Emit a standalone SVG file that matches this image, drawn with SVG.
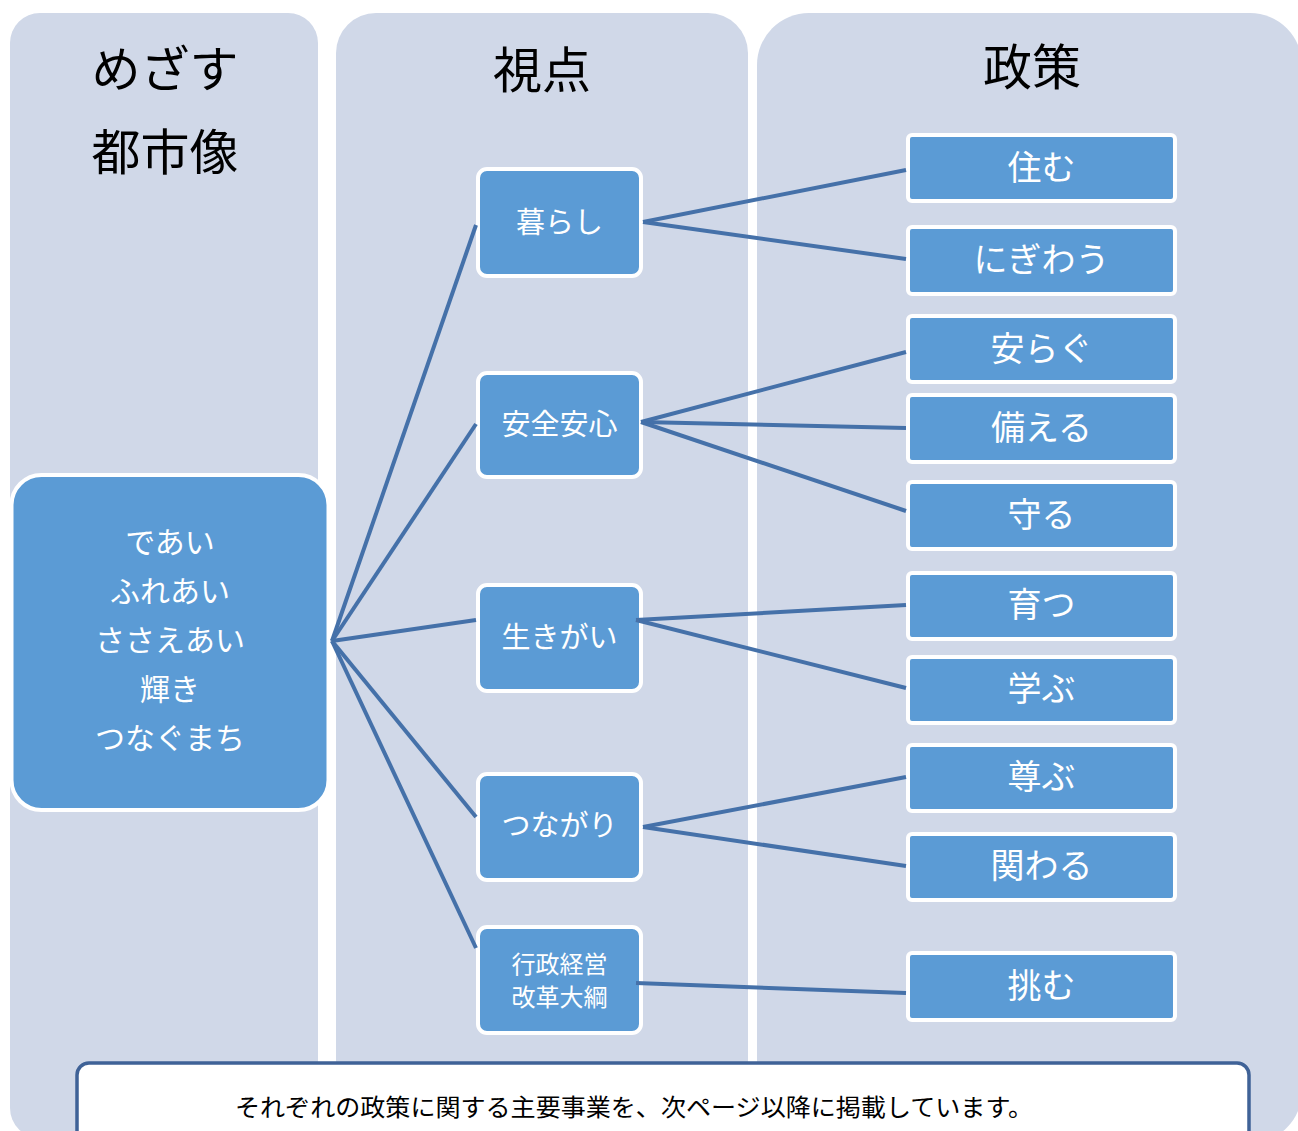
<svg xmlns="http://www.w3.org/2000/svg" width="1298" height="1131" viewBox="0 0 1298 1131">
  <style>
    .col { fill: #D0D8E8; }
    .title { font-family: "Noto Sans CJK JP", "Noto Sans", sans-serif; font-size: 49px; fill: #000; text-anchor: middle; }
    .node { fill: #5B9BD5; stroke: #FFFFFF; stroke-width: 4; }
    .lbl { font-family: "Noto Sans CJK JP", "Noto Sans", sans-serif; fill: #FFFFFF; text-anchor: middle; }
    .l1 { font-size: 30px; }
    .l2 { font-size: 29px; }
    .l2s { font-size: 24px; }
    .l3 { font-size: 34px; }
    .conn { stroke: #4571A9; stroke-width: 4; fill: none; stroke-linecap: butt; }
    .note { fill: #FFFFFF; stroke: #3F6297; stroke-width: 3.5; }
    .notetxt { font-family: "Noto Sans CJK JP", "Noto Sans", sans-serif; font-size: 24px; fill: #000; text-anchor: middle; }
  </style>
  <rect width="1298" height="1131" fill="#FFFFFF"/>

  <g id="columns">
    <rect class="col" x="10" y="13" width="308" height="1125" rx="30" ry="30"/>
    <rect class="col" x="336" y="13" width="412" height="1130" rx="40" ry="40"/>
    <rect class="col" x="757" y="13" width="545" height="1130" rx="52" ry="52"/>
  </g>

  <g id="titles">
    <text class="title" x="165" y="87">めざす</text>
    <text class="title" x="165" y="170">都市像</text>
    <text class="title" x="542" y="88">視点</text>
    <text class="title" x="1032" y="85">政策</text>
  </g>

  <g id="node-vision">
    <rect class="node" x="11.5" y="475" width="317" height="335" rx="30" ry="30"/>
    <text class="lbl l1" x="170" y="553">であい</text>
    <text class="lbl l1" x="170" y="602">ふれあい</text>
    <text class="lbl l1" x="170" y="651">ささえあい</text>
    <text class="lbl l1" x="170" y="700">輝き</text>
    <text class="lbl l1" x="170" y="749">つなぐまち</text>
  </g>

  <g id="node-kurashi">
    <rect class="node" x="478" y="169" width="163" height="107" rx="9" ry="9"/>
    <text class="lbl l2" x="559.5" y="233">暮らし</text>
  </g>
  <g id="node-anzen">
    <rect class="node" x="478" y="373" width="163" height="104" rx="9" ry="9"/>
    <text class="lbl l2" x="559.5" y="435">安全安心</text>
  </g>
  <g id="node-ikigai">
    <rect class="node" x="478" y="585" width="163" height="106" rx="9" ry="9"/>
    <text class="lbl l2" x="559.5" y="648">生きがい</text>
  </g>
  <g id="node-tsunagari">
    <rect class="node" x="478" y="774" width="163" height="106" rx="9" ry="9"/>
    <text class="lbl l2" x="559.5" y="836">つながり</text>
  </g>
  <g id="node-gyosei">
    <rect class="node" x="478" y="927" width="163" height="106" rx="9" ry="9"/>
    <text class="lbl l2s" x="559.5" y="973">行政経営</text>
    <text class="lbl l2s" x="559.5" y="1006">改革大綱</text>
  </g>

  <g id="node-sumu">
    <rect class="node" x="908" y="135" width="267" height="66" rx="4" ry="4"/>
    <text class="lbl l3" x="1041.5" y="180">住む</text>
  </g>
  <g id="node-nigiwau">
    <rect class="node" x="908" y="227" width="267" height="67" rx="4" ry="4"/>
    <text class="lbl l3" x="1041.5" y="272">にぎわう</text>
  </g>
  <g id="node-yasuragu">
    <rect class="node" x="908" y="316" width="267" height="66" rx="4" ry="4"/>
    <text class="lbl l3" x="1041.5" y="361">安らぐ</text>
  </g>
  <g id="node-sonaeru">
    <rect class="node" x="908" y="395" width="267" height="67" rx="4" ry="4"/>
    <text class="lbl l3" x="1041.5" y="440">備える</text>
  </g>
  <g id="node-mamoru">
    <rect class="node" x="908" y="482" width="267" height="67" rx="4" ry="4"/>
    <text class="lbl l3" x="1041.5" y="527">守る</text>
  </g>
  <g id="node-sodatsu">
    <rect class="node" x="908" y="573" width="267" height="66" rx="4" ry="4"/>
    <text class="lbl l3" x="1041.5" y="617">育つ</text>
  </g>
  <g id="node-manabu">
    <rect class="node" x="908" y="657" width="267" height="66" rx="4" ry="4"/>
    <text class="lbl l3" x="1041.5" y="701">学ぶ</text>
  </g>
  <g id="node-tattobu">
    <rect class="node" x="908" y="745" width="267" height="66" rx="4" ry="4"/>
    <text class="lbl l3" x="1041.5" y="789">尊ぶ</text>
  </g>
  <g id="node-kakawaru">
    <rect class="node" x="908" y="834" width="267" height="66" rx="4" ry="4"/>
    <text class="lbl l3" x="1041.5" y="878">関わる</text>
  </g>
  <g id="node-idomu">
    <rect class="node" x="908" y="953" width="267" height="67" rx="4" ry="4"/>
    <text class="lbl l3" x="1041.5" y="998">挑む</text>
  </g>

  <g id="connectors">
    <line class="conn" x1="332" y1="641" x2="476" y2="225"/>
    <line class="conn" x1="332" y1="641" x2="476" y2="424"/>
    <line class="conn" x1="332" y1="641" x2="476" y2="620"/>
    <line class="conn" x1="332" y1="641" x2="476" y2="817"/>
    <line class="conn" x1="332" y1="641" x2="476" y2="948"/>
    <line class="conn" x1="643" y1="222" x2="906" y2="170"/>
    <line class="conn" x1="643" y1="222" x2="906" y2="259"/>
    <line class="conn" x1="641" y1="422" x2="906" y2="352"/>
    <line class="conn" x1="641" y1="422" x2="906" y2="428"/>
    <line class="conn" x1="641" y1="422" x2="906" y2="511"/>
    <line class="conn" x1="636" y1="620" x2="906" y2="605"/>
    <line class="conn" x1="636" y1="620" x2="906" y2="688"/>
    <line class="conn" x1="643" y1="827" x2="906" y2="777"/>
    <line class="conn" x1="643" y1="827" x2="906" y2="866"/>
    <line class="conn" x1="636" y1="983" x2="906" y2="993"/>
  </g>

  <g id="note">
    <rect class="note" x="77" y="1063" width="1172" height="100" rx="12" ry="12"/>
    <text class="notetxt" x="634" y="1116" textLength="798" lengthAdjust="spacingAndGlyphs">それぞれの政策に関する主要事業を、次ページ以降に掲載しています。</text>
  </g>
</svg>
